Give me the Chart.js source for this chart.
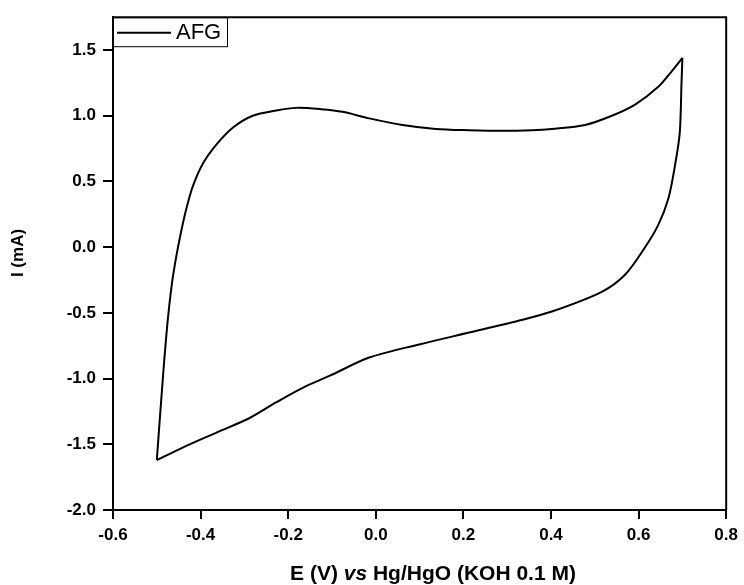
<!DOCTYPE html>
<html>
<head>
<meta charset="utf-8">
<script src="https://cdn.jsdelivr.net/npm/chart.js@4/dist/chart.umd.min.js"></script>
<style>
  html, body { margin: 0; padding: 0; background: #fff; }
  #wrap { width: 744px; height: 585px; position: relative; }
</style>
</head>
<body>
<div id="wrap"><canvas id="cv"></canvas></div>
<script>
// --- Data ---
const seriesLabel = 'AFG';

// anodic sweep: -0.5 V -> 0.7 V
const anodicE = [
  -0.500, -0.486, -0.476, -0.466, -0.456, -0.445, -0.432, -0.417, -0.394, -0.364,
  -0.326, -0.281, -0.227, -0.182, -0.125, -0.076, -0.015, 0.061, 0.137, 0.213,
  0.289, 0.357, 0.402, 0.478, 0.539, 0.592, 0.645, 0.676, 0.700
];
const anodicI = [
  -1.62, -0.99, -0.59, -0.29, -0.08, 0.11, 0.30, 0.47, 0.64, 0.78,
  0.91, 1.00, 1.04, 1.06, 1.05, 1.03, 0.98, 0.93, 0.90, 0.89,
  0.885, 0.89, 0.90, 0.93, 1.00, 1.085, 1.22, 1.34, 1.44
];

// cathodic sweep: 0.7 V -> -0.5 V
const cathodicE = [
  0.700, 0.698, 0.694, 0.683, 0.668, 0.645, 0.611, 0.569, 0.516,
  0.402, 0.326, 0.213, 0.099, -0.015, -0.106, -0.167, -0.227, -0.288, -0.356,
  -0.425, -0.500
];
const cathodicI = [
  1.44, 1.25, 0.87, 0.62, 0.37, 0.17, -0.02, -0.21, -0.34,
  -0.49, -0.56, -0.65, -0.74, -0.84, -0.98, -1.07, -1.18, -1.30, -1.40,
  -1.50, -1.62
];

const xTicks = [-0.6, -0.4, -0.2, 0.0, 0.2, 0.4, 0.6, 0.8];
const yTicks = [-2.0, -1.5, -1.0, -0.5, 0.0, 0.5, 1.0, 1.5];

const FONT = "'Liberation Sans', Arial, sans-serif";

function toPoints(xs, ys) {
  return xs.map((v, i) => ({ x: v, y: ys[i] }));
}

// --- Frame, legend and axis titles ---
const decorPlugin = {
  id: 'decor',
  afterDraw(chart) {
    const { ctx, chartArea: a } = chart;
    ctx.save();
    // top + right frame
    ctx.strokeStyle = '#000';
    ctx.lineWidth = 2;
    ctx.beginPath();
    ctx.moveTo(a.left, a.top);
    ctx.lineTo(a.right, a.top);
    ctx.lineTo(a.right, a.bottom);
    ctx.stroke();

    // legend box
    ctx.lineWidth = 1;
    ctx.strokeRect(a.left + 0.5, a.top + 0.5, 114, 29);
    ctx.lineWidth = 2;
    ctx.beginPath();
    ctx.moveTo(a.left + 4, a.top + 15.5);
    ctx.lineTo(a.left + 58, a.top + 15.5);
    ctx.stroke();
    ctx.fillStyle = '#000';
    ctx.font = `22px ${FONT}`;
    ctx.textBaseline = 'middle';
    ctx.textAlign = 'left';
    ctx.fillText(seriesLabel, a.left + 63, a.top + 16);

    // y title
    ctx.save();
    ctx.translate(18, 253);
    ctx.rotate(-Math.PI / 2);
    ctx.textAlign = 'center';
    ctx.font = `bold 17px ${FONT}`;
    ctx.fillText('I (mA)', 0, 0);
    ctx.restore();

    // x title with italic "vs"
    const parts = [
      ['E (V) ', `bold 21px ${FONT}`],
      ['vs', `italic bold 21px ${FONT}`],
      [' Hg/HgO (KOH 0.1 M)', `bold 21px ${FONT}`]
    ];
    let total = 0;
    parts.forEach(p => { ctx.font = p[1]; total += ctx.measureText(p[0]).width; });
    let x = 433 - total / 2;
    ctx.textBaseline = 'alphabetic';
    parts.forEach(p => {
      ctx.font = p[1];
      ctx.fillText(p[0], x, 580);
      x += ctx.measureText(p[0]).width;
    });
    ctx.restore();
  }
};

const lineStyle = {
  showLine: true,
  borderColor: '#000',
  borderWidth: 2,
  pointRadius: 0,
  tension: 0.3,
  fill: false
};

new Chart(document.getElementById('cv'), {
  type: 'scatter',
  data: {
    datasets: [
      { label: seriesLabel, data: toPoints(anodicE, anodicI), ...lineStyle },
      { label: seriesLabel, data: toPoints(cathodicE, cathodicI), ...lineStyle }
    ]
  },
  options: {
    responsive: true,
    maintainAspectRatio: false,
    animation: false,
    events: [],
    layout: { padding: { top: 14, right: 16, left: 0, bottom: 0 } },
    plugins: { legend: { display: false }, tooltip: { enabled: false } },
    scales: {
      x: {
        type: 'linear',
        min: -0.6, max: 0.8,
        afterFit: s => { s.height = 75; },
        afterBuildTicks: s => { s.ticks = xTicks.map(v => ({ value: v })); },
        ticks: {
          color: '#000', padding: 6, maxRotation: 0,
          font: { family: FONT, size: 17, weight: 'bold' },
          callback: v => v.toFixed(1)
        },
        grid: { drawOnChartArea: false, drawTicks: true, tickLength: 9, color: '#000', lineWidth: 2 },
        border: { display: true, color: '#000', width: 2 }
      },
      y: {
        type: 'linear',
        min: -2.0, max: 1.75,
        afterFit: s => { s.width = 113; },
        afterBuildTicks: s => { s.ticks = yTicks.map(v => ({ value: v })); },
        ticks: {
          color: '#000', padding: 7,
          font: { family: FONT, size: 17, weight: 'bold' },
          callback: v => v.toFixed(1)
        },
        grid: { drawOnChartArea: false, drawTicks: true, tickLength: 10, color: '#000', lineWidth: 2 },
        border: { display: true, color: '#000', width: 2 }
      }
    }
  },
  plugins: [decorPlugin]
});
</script>
</body>
</html>
